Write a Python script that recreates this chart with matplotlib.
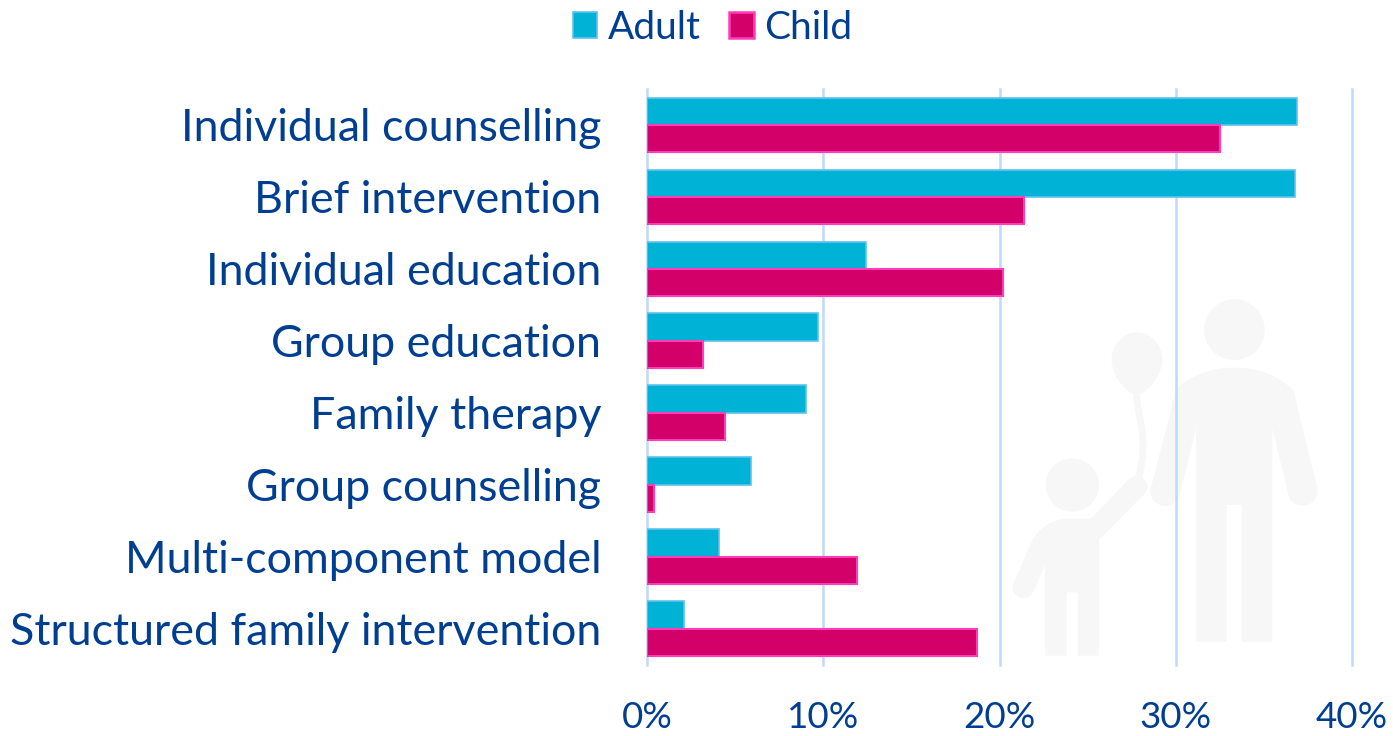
import matplotlib
matplotlib.use("Agg")
import matplotlib.pyplot as plt
from matplotlib.path import Path
from matplotlib.patches import PathPatch, Circle, Patch
from matplotlib.transforms import Affine2D
from matplotlib.ticker import PercentFormatter

categories = ["Individual counselling", "Brief intervention", "Individual education",
              "Group education", "Family therapy", "Group counselling",
              "Multi-component model", "Structured family intervention"]
adult = [36.9, 36.75, 12.4, 9.7, 9.0, 5.9, 4.1, 2.1]
child = [32.5, 21.4, 20.2, 3.2, 4.4, 0.4, 11.9, 18.7]
xticks = [0, 10, 20, 30, 40]

W, H = 1393, 736
TEXT = "#003E92"
GRID = "#BFDBFA"
plt.rcParams["font.family"] = ["Lato", "DejaVu Sans"]

fig = plt.figure(figsize=(W / 100, H / 100), dpi=100)
ax = fig.add_axes([647 / W, 1 - 664.5 / H, 705 / W, 575.5 / H])
ax.set_xlim(0, 40)
ax.set_ylim(7.5, -0.5)
ax.set_axisbelow(True)

# Watermark silhouette: zoomed-crop coordinates mapped to figure pixels
zoom_tf = Affine2D().scale(1 / 3).translate(1000, 280).scale(1, -1).translate(0, H)
SIL = "#F7F7F7"

def poly(verts, codes):
    p = Path(verts, codes)
    fig.add_artist(PathPatch(p, fc=SIL, ec="none", transform=zoom_tf, zorder=-5))

def disc(x, y, r):
    fig.add_artist(Circle((x, y), r, fc=SIL, ec="none", transform=zoom_tf, zorder=-5))

# man
disc(703, 149, 91)
disc(496, 633, 45)
disc(908, 632, 45)
M, L, C = Path.MOVETO, Path.LINETO, Path.CURVE4
man = [((530, 325), M), ((585, 280), C), ((640, 263), C), ((703, 263), C),
       ((770, 263), C), ((825, 280), C), ((880, 330), C),
       ((952, 625), L), ((865, 642), L), ((817, 445), L), ((817, 1085), L),
       ((725, 1085), L), ((725, 675), L), ((680, 675), L), ((680, 1085), L),
       ((588, 1085), L), ((588, 445), L), ((540, 642), L), ((452, 625), L), ((530, 325), L)]
poly([v for v, _ in man], [c for _, c in man])
# child
disc(217, 615, 80)
disc(70, 922, 32)
disc(410, 620, 32)
kid = [((135, 855), M), ((100, 935), L), ((40, 912), L), ((95, 785), L),
       ((115, 745), C), ((160, 716), C), ((200, 716), C),
       ((272, 716), L), ((388, 597), L), ((433, 642), L), ((297, 780), L),
       ((297, 1127), L), ((233, 1127), L), ((233, 937), L), ((200, 937), L),
       ((200, 1127), L), ((135, 1127), L), ((135, 855), L)]
poly([v for v, _ in kid], [c for _, c in kid])
# balloon
bal = [((410, 157), M), ((365, 157), C), ((335, 197), C), ((335, 240), C),
       ((335, 280), C), ((370, 335), C), ((410, 347), C),
       ((450, 335), C), ((487, 280), C), ((487, 240), C),
       ((487, 197), C), ((455, 157), C), ((410, 157), C)]
poly([v for v, _ in bal], [c for _, c in bal])
string = Path([(410, 340), (408, 400), (450, 470), (415, 595)], [M, C, C, C])
fig.add_artist(PathPatch(string, fc="none", ec=SIL, lw=5, transform=zoom_tf, zorder=-5))

ys = list(range(len(categories)))
h = 0.38
ax.patch.set_alpha(0)
ax.barh([y - h / 2 for y in ys], adult, height=h, color="#00B2D6", edgecolor="#5CC4EE", linewidth=1.2, label="Adult", zorder=3)
ax.barh([y + h / 2 for y in ys], child, height=h, color="#D4006A", edgecolor="#FF3DB8", linewidth=1.5, label="Child", zorder=3)

ax.set_yticks(ys, categories)
ax.set_xticks(xticks)
ax.xaxis.set_major_formatter(PercentFormatter(decimals=0))
ax.grid(axis="x", color=GRID, lw=1.8, clip_on=False)
ax.tick_params(axis="y", length=0, pad=33, labelsize=32.2, labelcolor=TEXT)
ax.tick_params(axis="x", length=0, pad=26, labelsize=26.5, labelcolor=TEXT)
for s in ("top", "right", "bottom", "left"):
    ax.spines[s].set_visible(False)

handles = [Patch(fc="#00B2D6", ec="#5CC4EE", lw=1.2, label="Adult"),
           Patch(fc="#D4006A", ec="#FF3DB8", lw=1.8, label="Child")]
fig.legend(handles=handles, loc="center", bbox_to_anchor=(712.5 / W, 1 - 28 / H), ncol=2,
           frameon=False, fontsize=28, labelcolor=TEXT, handlelength=0.64, handleheight=0.64,
           handletextpad=0.27, columnspacing=0.72, borderpad=0, borderaxespad=0)

fig.savefig("out.png", dpi=100)
